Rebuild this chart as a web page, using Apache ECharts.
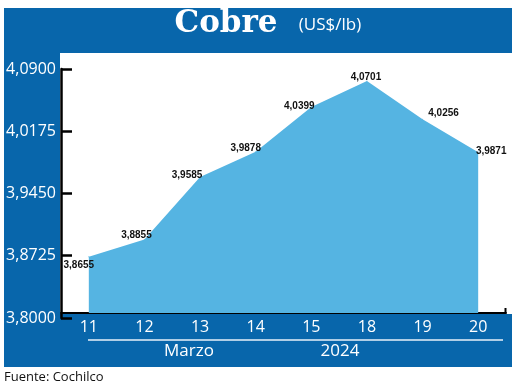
<!DOCTYPE html>
<html><head><meta charset="utf-8">
<script src="https://cdn.jsdelivr.net/npm/echarts@6/dist/echarts.min.js"></script>
<style>html,body{margin:0;padding:0;background:#fff}#c{width:520px;height:388px}</style>
</head><body><div id="c"></div>
<script>
var categories = ['11','12','13','14','15','18','19','20'];
var values = [3.8655, 3.8855, 3.9585, 3.9878, 4.0399, 4.0701, 4.0256, 3.9871];
var yTicks = [3.8000, 3.8725, 3.9450, 4.0175, 4.0900];
var titleMain = 'Cobre';
var titleUnit = '(US$/lb)';
var monthLabel = 'Marzo';
var yearLabel = '2024';
var sourceLabel = 'Fuente: Cochilco';

var BLUE = '#0866ab';
var AREA = '#55b4e2';
var labelOffsets = [[-10,14],[-8,1],[-13,4],[-10,2],[-12,5],[-1,2],[21,-1],[13,4]];
function fmt(v){ return v.toFixed(4).replace('.', ','); }

var chart = echarts.init(document.getElementById('c'), null, {renderer:'canvas'});
var seriesData = values.map(function(v,i){
  return {value:v, label:{offset:labelOffsets[i]}};
});
chart.setOption({
  animation:false,
  backgroundColor:'#fff',
  graphic:[
    {type:'rect', z:-10, shape:{x:4,y:8,width:508,height:45}, style:{fill:BLUE}},
    {type:'rect', z:-10, shape:{x:4,y:8,width:56,height:359}, style:{fill:BLUE}},
    {type:'rect', z:-10, shape:{x:4,y:314,width:508,height:53}, style:{fill:BLUE}},
    {type:'line', z:5, shape:{x1:88,y1:340,x2:503,y2:340}, style:{stroke:'#e8f2fa',lineWidth:1.5}},
    {type:'line', z:5, shape:{x1:505.5,y1:313,x2:505.5,y2:308}, style:{stroke:'#000',lineWidth:2}},
    {type:'text', z:5, x:226, y:24, style:{text:titleMain, fill:'#fff', font:'bold 31px "DejaVu Serif", serif', align:'center', verticalAlign:'middle'}},
    {type:'text', z:5, x:330, y:25, style:{text:titleUnit, fill:'#fff', font:'17px "Open Sans", sans-serif', align:'center', verticalAlign:'middle'}},
    {type:'text', z:5, x:189, y:351, style:{text:monthLabel, fill:'#fff', font:'17px "Open Sans", sans-serif', align:'center', verticalAlign:'middle'}},
    {type:'text', z:5, x:340, y:351, style:{text:yearLabel, fill:'#fff', font:'17px "Open Sans", sans-serif', align:'center', verticalAlign:'middle'}},
    {type:'text', z:5, x:4, y:377, style:{text:sourceLabel, fill:'#111', font:'13px "Open Sans", sans-serif', align:'left', verticalAlign:'middle'}}
  ],
  grid:[
    {left:61, right:14, top:64, height:249, containLabel:false},
    {left:61, width:10, top:69, height:249, containLabel:false}
  ],
  xAxis:[
    {gridIndex:0, type:'category', data:categories, boundaryGap:true,
     axisLine:{show:true, lineStyle:{color:'#000', width:2}},
     axisTick:{show:false},
     axisLabel:{color:'#fff', fontSize:16, fontFamily:'Open Sans', margin:6},
     splitLine:{show:false}},
    {gridIndex:1, type:'value', show:false}
  ],
  yAxis:[
    {gridIndex:0, type:'value', min:3.8, max:4.09, show:false, splitLine:{show:false}},
    {gridIndex:1, type:'value', min:yTicks[0], max:yTicks[yTicks.length-1], interval:yTicks[1]-yTicks[0],
     axisLine:{show:true, onZero:false, lineStyle:{color:'#000', width:2.5}},
     axisTick:{show:true, inside:true, length:11, lineStyle:{color:'#000', width:2.5}},
     axisLabel:{color:'#fff', fontSize:16, fontFamily:'Open Sans', margin:5, formatter:function(v){return fmt(v);}},
     splitLine:{show:false}}
  ],
  series:[{
    type:'line', xAxisIndex:0, yAxisIndex:0,
    data:seriesData, clip:false,
    symbol:'circle', symbolSize:1, showSymbol:true,
    itemStyle:{color:AREA},
    smooth:false,
    lineStyle:{width:0, color:AREA},
    areaStyle:{color:AREA, opacity:1, origin:'start'},
    label:{show:true, position:'top', distance:0, color:'#111',
      fontSize:10, fontWeight:'bold', fontFamily:'"Liberation Sans", Arial, sans-serif',
      formatter:function(p){return fmt(p.value);}}
  }]
});
</script></body></html>
